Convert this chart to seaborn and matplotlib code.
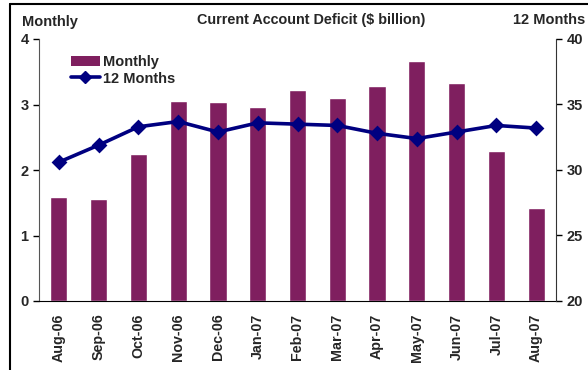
import matplotlib
matplotlib.use("Agg")
import matplotlib.pyplot as plt
import seaborn as sns
import pandas as pd
from matplotlib.lines import Line2D
from matplotlib.patches import Patch

months = ["Aug-06", "Sep-06", "Oct-06", "Nov-06", "Dec-06", "Jan-07", "Feb-07",
          "Mar-07", "Apr-07", "May-07", "Jun-07", "Jul-07", "Aug-07"]
monthly = [1.59, 1.56, 2.24, 3.05, 3.04, 2.96, 3.22, 3.10, 3.28, 3.66, 3.33, 2.29, 1.42]
twelve_months = [30.6, 31.9, 33.3, 33.7, 32.9, 33.6, 33.5, 33.4, 32.8, 32.4, 32.9, 33.4, 33.2]

bar_color = "#7F1F5F"
line_color = "#000080"

sns.set_style("white")
plt.rcParams['font.family'] = ['Liberation Sans', 'DejaVu Sans']
plt.rcParams['font.weight'] = 'bold'

df = pd.DataFrame({"month": months, "monthly": monthly, "twelve": twelve_months})

fig = plt.figure(figsize=(5.88, 3.70), dpi=100)
ax = fig.add_axes([39/588, 1-301/370, (556-39)/588, (301-39)/370])

sns.barplot(data=df, x="month", y="monthly", color=bar_color, saturation=1,
            width=0.43, ax=ax)
ax2 = ax.twinx()
sns.pointplot(data=df, x="month", y="twelve", color=line_color, markers="D",
              markersize=6, linewidth=2.6, ax=ax2)

n = len(months)
ax.set_xlim(-0.5, n - 0.5)
ax2.set_xlim(-0.5, n - 0.5)
ax.set_ylim(0, 4)
ax2.set_ylim(20, 40)
ax.set_yticks([0, 1, 2, 3, 4])
ax2.set_yticks([20, 25, 30, 35, 40])
ax.set_xticks([i - 0.5 for i in range(n + 1)], minor=False)
ax.set_xticklabels([])
ax.set_xticks(range(n), minor=True)
ax.set_xticklabels(months, minor=True, rotation=90, fontsize=10.3, fontweight='bold')
ax.tick_params(axis='x', which='minor', length=0, pad=9)
ax.tick_params(axis='x', which='major', length=5, width=1, direction='out', color='black')
ax.tick_params(axis='y', length=4, width=1, direction='out', labelsize=10.5, color='black')
ax2.tick_params(axis='y', length=4, width=1, direction='out', labelsize=10.5, color='black')
for lab in ax.get_yticklabels() + ax2.get_yticklabels():
    lab.set_fontweight('bold')
ax.set_xlabel("")
ax.set_ylabel("")
ax2.set_ylabel("")
ax2.set_xlabel("")

for a in (ax, ax2):
    a.spines['top'].set_visible(False)
    a.grid(False)
ax.spines['left'].set_color('#555555')
ax.spines['bottom'].set_color('black')
ax2.spines['right'].set_color('#333333')
ax2.spines['left'].set_visible(False)
ax2.spines['bottom'].set_visible(False)
ax.spines['right'].set_visible(False)

handles = [Patch(facecolor=bar_color, edgecolor='none'),
           Line2D([0], [0], color=line_color, lw=2.6, marker='D', markersize=6)]
ax.legend(handles, ["Monthly", "12 Months"], loc='upper left',
          bbox_to_anchor=(0.05, 0.96), frameon=False,
          prop={'weight': 'bold', 'size': 10.5}, handlelength=2.0,
          handletextpad=0.2, labelspacing=0.15, borderaxespad=0)

fig.text(22/588, 1-22/370, "Monthly", fontsize=10.5, fontweight='bold', va='center', ha='left')
fig.text(311/588, 1-20/370, "Current Account Deficit ($ billion)", fontsize=10.4,
         fontweight='bold', va='center', ha='center')
fig.text(585/588, 1-20/370, "12 Months", fontsize=10.5, fontweight='bold', va='center', ha='right')

# outer frame
fig.add_artist(Line2D([10/588, 1], [1-4/370, 1-4/370], color='black', lw=1.5, transform=fig.transFigure))
fig.add_artist(Line2D([10/588, 10/588], [0, 1-4/370], color='black', lw=1.5, transform=fig.transFigure))

fig.savefig("out.png", dpi=100)
